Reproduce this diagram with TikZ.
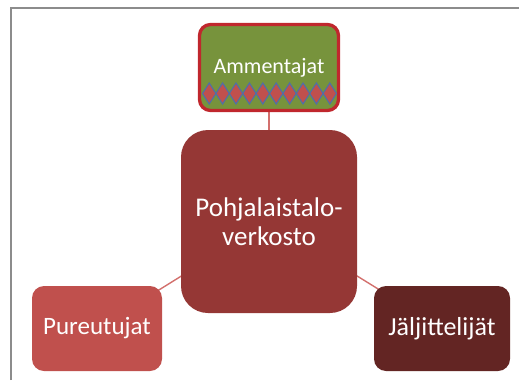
\documentclass[tikz,border=0pt]{standalone}
\usepackage{fontspec}
\setmainfont{Carlito}
\usepackage{tikz}
\usetikzlibrary{backgrounds}
\definecolor{framegray}{HTML}{8C8C8C}
\definecolor{leafgreen}{HTML}{77933C}
\definecolor{rimred}{HTML}{C0272D}
\definecolor{hubred}{HTML}{953735}
\definecolor{softred}{HTML}{C0504D}
\definecolor{darkred}{HTML}{632523}
\definecolor{linkred}{HTML}{D3706D}
\definecolor{diamblue}{HTML}{4F6FA8}

\begin{document}
\begin{tikzpicture}[x=1pt, y=-1pt,
  hub/.style={fill=hubred, text=white, rounded corners=27pt, minimum width=176pt,
    minimum height=183pt, align=center, font=\fontsize{27}{29}\selectfont},
  leaf/.style={text=white, rounded corners=12pt, minimum height=85pt,
    font=\fontsize{25}{30}\selectfont},
  diam/.style={fill=softred, draw=diamblue, line width=1.1pt, line join=miter},
  link/.style={draw=linkred, line width=1.4pt}]
  \useasboundingbox (0,0) rectangle (519,380);

  % page frame
  \draw[framegray, line width=1.5pt] (11,380) -- (11,8) -- (519,8);

  % central hub
  \node[hub] (hub) at (269,221.5) {Pohjalaistalo-\\verkosto};

  % three outer boxes
  \node[leaf, fill=leafgreen, draw=rimred, line width=3.3pt, rounded corners=11pt,
    minimum width=139pt, minimum height=86pt, font=\fontsize{22}{26}\selectfont]
    (ammentajat) at (269,67.5) {Ammentajat};
  \node[leaf, fill=softred, minimum width=130pt] (pureutujat) at (97,328.5) {Pureutujat};
  \node[leaf, fill=darkred, minimum width=136pt, font=\fontsize{26}{30}\selectfont]
    (jaljittelijat) at (442,328.5) {Jäljittelijät};

  % diamond band
  \foreach \i in {0,...,9} {
    \draw[diam] ({202.5+13.4*\i},93.5) -- ++(6.7,-10.5) -- ++(6.7,10.5)
      -- ++(-6.7,10.5) -- cycle;
  }

  % connectors behind the boxes
  \begin{scope}[on background layer]
    \draw[link] (hub.center) -- (ammentajat.center);
    \draw[link] (hub.center) -- (pureutujat.center);
    \draw[link] (hub.center) -- (jaljittelijat.center);
  \end{scope}
\end{tikzpicture}
\end{document}
